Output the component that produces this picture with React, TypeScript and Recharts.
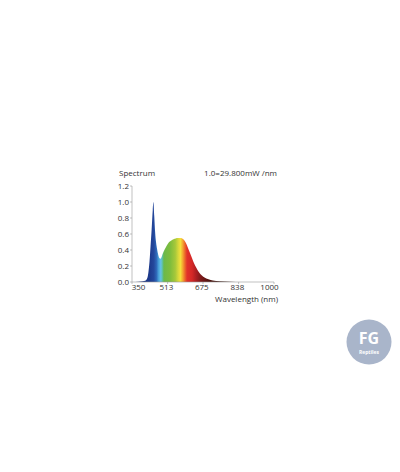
import React from 'react';
import { AreaChart, Area, XAxis, YAxis } from 'recharts';

// 파장(nm)과 상대 세기 (1.0 = 29.800mW/nm)
const wavelengths = [
  350, 380, 400, 410, 420, 425, 430, 435, 440, 445, 448, 452, 456, 460, 465, 470, 475, 480,
  485, 490, 500, 510, 520, 530, 540, 550, 560, 570, 580, 590, 600, 610, 620, 630, 640, 650,
  660, 670, 680, 700, 720, 750, 800, 850, 900, 1000,
];
const intensity = [
  0, 0.003, 0.008, 0.015, 0.05, 0.12, 0.25, 0.45, 0.66, 0.9, 1.0, 0.82, 0.62, 0.5, 0.41, 0.34, 0.3, 0.29,
  0.31, 0.35, 0.41, 0.46, 0.5, 0.52, 0.535, 0.545, 0.55, 0.55, 0.545, 0.52, 0.47, 0.4, 0.33, 0.26, 0.2, 0.15,
  0.11, 0.08, 0.06, 0.035, 0.02, 0.01, 0.004, 0.001, 0, 0,
];
const xTicks = [350, 513, 675, 838, 1000];
const yTicks = [0, 0.2, 0.4, 0.6, 0.8, 1.0, 1.2];

// 무지개 색상 (파장 기준)
const colorStops: [number, string][] = [
  [350, '#1b2f78'],
  [430, '#1d3a8c'],
  [450, '#24489c'],
  [462, '#2e68b8'],
  [472, '#4aa2da'],
  [482, '#66c3e6'],
  [490, '#5fbf9a'],
  [496, '#6cb84a'],
  [525, '#7fbd3c'],
  [548, '#a6c83a'],
  [562, '#d6d83c'],
  [572, '#f3df3a'],
  [582, '#f4a731'],
  [592, '#ec6a2a'],
  [602, '#e2312a'],
  [625, '#d42827'],
  [645, '#a81e22'],
  [665, '#7e1a1a'],
  [700, '#521510'],
  [760, '#3a1a14'],
  [1000, '#3a1a14'],
];

const X_MIN = 350;
const X_MAX = 1000;

const data = wavelengths.map((w, i) => ({ w, v: intensity[i] }));

const font = "'Open Sans', sans-serif";
const textColor = '#333';

const XTick = (props: any) => {
  const { x, y, payload } = props;
  const shift = payload.value === 350 ? 6.5 : payload.value === 1000 ? -4.5 : -1.2;
  return (
    <text x={x + shift} y={y + 4} textAnchor="middle" fontSize={8} fontFamily={font} fill={textColor}>
      {payload.value}
    </text>
  );
};

const labelStyle: React.CSSProperties = {
  position: 'absolute', fontSize: 8, lineHeight: '9px', fontFamily: font,
  color: textColor, whiteSpace: 'nowrap',
};

export default function App() {
  return (
    <div style={{ position: 'absolute', left: 0, top: 0, width: 400, height: 472, background: '#fff' }}>
      <div style={{ ...labelStyle, left: 119, top: 168 }}>Spectrum</div>
      <div style={{ ...labelStyle, right: 400 - 277, top: 168 }}>1.0=29.800mW /nm</div>
      <div style={{ ...labelStyle, right: 400 - 278, top: 294 }}>Wavelength (nm)</div>

      <AreaChart
        width={400}
        height={472}
        data={data}
        margin={{ top: 186, right: 126, left: 102, bottom: 170 }}
        style={{ position: 'absolute', left: 0, top: 0 }}
      >
        <defs>
          <linearGradient id="spec" x1="0" y1="0" x2="1" y2="0">
            {colorStops.map(([w, c]) => (
              <stop key={w} offset={(w - X_MIN) / (X_MAX - X_MIN)} stopColor={c} />
            ))}
          </linearGradient>
        </defs>
        <XAxis
          dataKey="w"
          type="number"
          domain={[X_MIN, X_MAX]}
          ticks={xTicks}
          tick={<XTick />}
          tickSize={2}
          height={20}
          axisLine={{ stroke: '#999', strokeWidth: 0.6 }}
          tickLine={{ stroke: '#999', strokeWidth: 0.6 }}
        />
        <YAxis
          type="number"
          domain={[0, 1.2]}
          ticks={yTicks}
          tickFormatter={(v: number) => v.toFixed(1)}
          tick={{ fontSize: 8, fontFamily: font, fill: textColor }}
          tickSize={2}
          tickMargin={1}
          width={30}
          axisLine={{ stroke: '#999', strokeWidth: 0.6 }}
          tickLine={{ stroke: '#999', strokeWidth: 0.6 }}
        />
        <Area
          type="monotone"
          dataKey="v"
          stroke="none"
          fill="url(#spec)"
          fillOpacity={1}
          isAnimationActive={false}
        />
      </AreaChart>

      <svg width={400} height={472} style={{ position: 'absolute', left: 0, top: 0 }}>
        <circle cx={369} cy={342} r={22.5} fill="#a9b5ca" />
        <text x={369} y={344} textAnchor="middle" fontSize={16} fontWeight={700} fontFamily={font} fill="#fff">
          FG
        </text>
        <text x={369} y={354} textAnchor="middle" fontSize={5} fontWeight={700} fontFamily={font} fill="#fff">
          Reptiles
        </text>
      </svg>
    </div>
  );
}
